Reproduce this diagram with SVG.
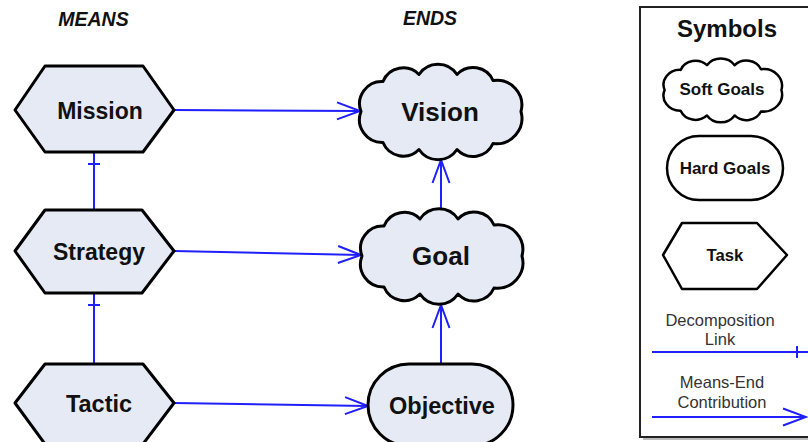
<svg xmlns="http://www.w3.org/2000/svg" xmlns:xlink="http://www.w3.org/1999/xlink" width="808" height="442" viewBox="0 0 808 442">
<style>
.node{fill:#e5eaf5;stroke:#000;stroke-width:3;stroke-linejoin:round}
.sym{fill:#fff;stroke:#000;stroke-width:2.5;stroke-linejoin:round}
.lbl{font-family:"Liberation Sans",Arial,sans-serif;font-weight:bold;fill:#111;text-anchor:middle}
.leg{font-family:"Liberation Sans",Arial,sans-serif;fill:#333;text-anchor:middle;font-size:16.5px}
.hdr{font-family:"Liberation Sans",Arial,sans-serif;font-weight:bold;font-style:italic;fill:#111;text-anchor:middle;font-size:19.5px}
.link{fill:none;stroke:#1f1fff;stroke-width:2}
</style>
<defs>
<path id="cloud" vector-effect="non-scaling-stroke" d="M-80,0 A22.2,22.2 0 0 1 -58,-30 A22,22 0 0 1 -22,-37 A22.8,22.8 0 0 1 16,-37 A21.9,21.9 0 0 1 52,-31 A25,25 0 0 1 80,0 A25.5,25.5 0 0 1 52,32 A21.9,21.9 0 0 1 16,38 A22.8,22.8 0 0 1 -22,38 A22,22 0 0 1 -58,31 A22.8,22.8 0 0 1 -80,0 Z"/>
<marker id="arr" markerUnits="userSpaceOnUse" markerWidth="30" markerHeight="24" viewBox="-26 -12 30 24" refX="0" refY="0" orient="auto">
<path d="M-23,-8.5 L0,0 L-23,8.5" fill="none" stroke="#1f1fff" stroke-width="2"/>
</marker>
</defs>

<text class="hdr" x="93.5" y="26">MEANS</text>
<text class="hdr" x="430" y="25">ENDS</text>

<g id="connectors">
<line class="link" x1="94" y1="152" x2="94" y2="210"/>
<line class="link" x1="88" y1="164" x2="100" y2="164"/>
<line class="link" x1="94" y1="293" x2="94" y2="364"/>
<line class="link" x1="88" y1="305" x2="100" y2="305"/>
<line class="link" x1="174" y1="110" x2="360" y2="111" marker-end="url(#arr)"/>
<line class="link" x1="174" y1="251" x2="361" y2="255" marker-end="url(#arr)"/>
<line class="link" x1="174" y1="403" x2="368" y2="406" marker-end="url(#arr)"/>
<line class="link" x1="441" y1="364" x2="441" y2="305" marker-end="url(#arr)"/>
<line class="link" x1="441" y1="208" x2="441" y2="160" marker-end="url(#arr)"/>
</g>

<g id="mission">
<polygon class="node" points="15,110 45,66 143,66 174,110 143,152 45,152"/>
<text class="lbl" x="100" y="119" font-size="23">Mission</text>
</g>
<g id="strategy">
<polygon class="node" points="15,251 45,210 142,210 174,251 142,293 45,293"/>
<text class="lbl" x="99" y="260" font-size="23">Strategy</text>
</g>
<g id="tactic">
<polygon class="node" points="15,403 45,364 143,364 174,403 143,444 45,444"/>
<text class="lbl" x="99" y="412" font-size="23.5">Tactic</text>
</g>
<g id="vision">
<use href="#cloud" xlink:href="#cloud" class="node" transform="translate(441,111.5)"/>
<text class="lbl" x="440" y="121" font-size="26">Vision</text>
</g>
<g id="goal">
<use href="#cloud" xlink:href="#cloud" class="node" transform="translate(442,256)"/>
<text class="lbl" x="441" y="265" font-size="26">Goal</text>
</g>
<g id="objective">
<rect class="node" x="368" y="364" width="145" height="82" rx="41" ry="41"/>
<text class="lbl" x="442" y="414" font-size="23.5">Objective</text>
</g>

<g id="legend">
<rect x="643" y="10" width="180" height="430" fill="#bbb"/>
<rect x="640" y="7" width="180" height="430" fill="#fff" stroke="#222" stroke-width="2"/>
<text class="lbl" x="727" y="37" font-size="24">Symbols</text>
<g id="sym-soft">
<use href="#cloud" xlink:href="#cloud" class="sym" transform="translate(723,90) scale(0.73,0.67)"/>
<text class="lbl" x="722" y="95" font-size="17">Soft Goals</text>
</g>
<g id="sym-hard">
<rect class="sym" x="667" y="136" width="116" height="64" rx="32" ry="32"/>
<text class="lbl" x="725" y="174" font-size="17">Hard Goals</text>
</g>
<g id="sym-task">
<polygon class="sym" points="663,255 682,223 757,223 787,255 757,289 682,289"/>
<text class="lbl" x="725" y="261" font-size="16.7">Task</text>
</g>
<text class="leg" x="720" y="326">Decomposition</text>
<text class="leg" x="720" y="345">Link</text>
<line class="link" x1="652" y1="352" x2="810" y2="352"/>
<line class="link" x1="797" y1="346" x2="797" y2="358"/>
<text class="leg" x="722" y="388">Means-End</text>
<text class="leg" x="722" y="408">Contribution</text>
<line class="link" x1="652" y1="417" x2="806" y2="417" marker-end="url(#arr)"/>
</g>
</svg>
